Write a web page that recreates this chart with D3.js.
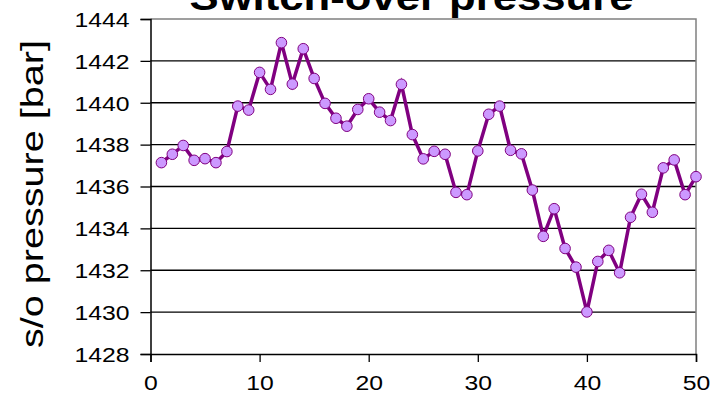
<!DOCTYPE html>
<html>
<head>
<meta charset="utf-8">
<script src="https://cdn.jsdelivr.net/npm/d3@7/dist/d3.min.js"></script>
<style>
  html, body { margin: 0; padding: 0; background: #fff; }
  svg { display: block; }
  text { font-family: "Liberation Sans", Arial, sans-serif; fill: #000; }
</style>
</head>
<body>
<script>
// Switch-over pressure per shot
const shots = d3.range(1, 51);
const pressure = [
  1437.14, 1437.54, 1437.96, 1437.25, 1437.33, 1437.14, 1437.67, 1439.84, 1439.65, 1441.45,
  1440.64, 1442.87, 1440.89, 1442.58, 1441.16, 1439.97, 1439.26, 1438.88, 1439.68, 1440.19,
  1439.55, 1439.15, 1440.88, 1438.48, 1437.32, 1437.68, 1437.54, 1435.72, 1435.61, 1437.70,
  1439.45, 1439.84, 1437.73, 1437.56, 1435.83, 1433.62, 1434.94, 1433.04, 1432.15, 1430.01,
  1432.42, 1432.95, 1431.88, 1434.53, 1435.63, 1434.77, 1436.89, 1437.27, 1435.61, 1436.47
];
const xTicks = [0, 10, 20, 30, 40, 50];
const yTicks = [1428, 1430, 1432, 1434, 1436, 1438, 1440, 1442, 1444];
const titleText = "Switch-over pressure";
const yTitle = "s/o pressure [bar]";

const W = 711, H = 405;
const plot = { left: 150.5, right: 696, top: 19, bottom: 354 };

const svg = d3.select("body").append("svg").attr("width", W).attr("height", H);

const x = d3.scaleLinear().domain([0, 50]).range([plot.left, plot.right]);
const y = d3.scaleLinear().domain([1428, 1444]).range([plot.bottom, plot.top]);

// horizontal gridlines
svg.append("g").selectAll("line").data(yTicks.slice(1, -1)).join("line")
  .attr("x1", plot.left).attr("x2", plot.right)
  .attr("y1", d => y(d)).attr("y2", d => y(d))
  .attr("stroke", "#000").attr("stroke-width", 1.3);

// top and right frame
svg.append("path")
  .attr("d", `M${plot.left},${y(1444)}H${plot.right}V${plot.bottom}`)
  .attr("fill", "none").attr("stroke", "#808080").attr("stroke-width", 1.5);

const labelScale = 1.18;

// y axis
const yAxis = svg.append("g").attr("transform", `translate(${plot.left},0)`)
  .call(d3.axisLeft(y).tickValues(yTicks).tickFormat(d3.format("d")).tickSize(10).tickPadding(0));
yAxis.select(".domain").attr("stroke", "#000").attr("stroke-width", 1.5);
yAxis.selectAll(".tick line").attr("stroke", "#000").attr("stroke-width", 1.3);
yAxis.selectAll(".tick text")
  .attr("x", null).attr("dy", null)
  .attr("font-size", 21).attr("text-anchor", "end").attr("dominant-baseline", "central")
  .attr("transform", `translate(-21,0) scale(${labelScale},1)`);

// x axis
const xAxis = svg.append("g").attr("transform", `translate(0,${plot.bottom})`)
  .call(d3.axisBottom(x).tickValues(xTicks).tickFormat(d3.format("d")).tickSize(8).tickPadding(0));
xAxis.select(".domain").attr("stroke", "#000").attr("stroke-width", 1.5);
xAxis.selectAll(".tick line").attr("stroke", "#000").attr("stroke-width", 1.3);
xAxis.selectAll(".tick text")
  .attr("y", null).attr("dy", null)
  .attr("font-size", 21).attr("text-anchor", "middle")
  .attr("transform", `translate(0,36) scale(${labelScale},1)`);

// y axis title
svg.append("text")
  .attr("transform", `translate(43,194) rotate(-90)`)
  .attr("text-anchor", "middle")
  .attr("font-size", 32)
  .attr("textLength", 308).attr("lengthAdjust", "spacingAndGlyphs")
  .text(yTitle);

// chart title, its upper part runs past the top edge
svg.append("text")
  .attr("transform", `translate(411.5,9.5) scale(${labelScale},1)`)
  .attr("text-anchor", "middle")
  .attr("font-size", 37).attr("font-weight", "bold")
  .text(titleText);

// series
const pts = shots.map((s, i) => ({ s, v: pressure[i] }));
svg.append("path").datum(pts)
  .attr("fill", "none").attr("stroke", "#800080").attr("stroke-width", 3.5)
  .attr("stroke-linejoin", "miter")
  .attr("d", d3.line().x(d => x(d.s)).y(d => y(d.v)));

svg.append("g").selectAll("circle").data(pts).join("circle")
  .attr("cx", d => x(d.s)).attr("cy", d => y(d.v)).attr("r", 5.3)
  .attr("fill", "#CC99FF").attr("stroke", "#800080").attr("stroke-width", 1);
</script>
</body>
</html>
